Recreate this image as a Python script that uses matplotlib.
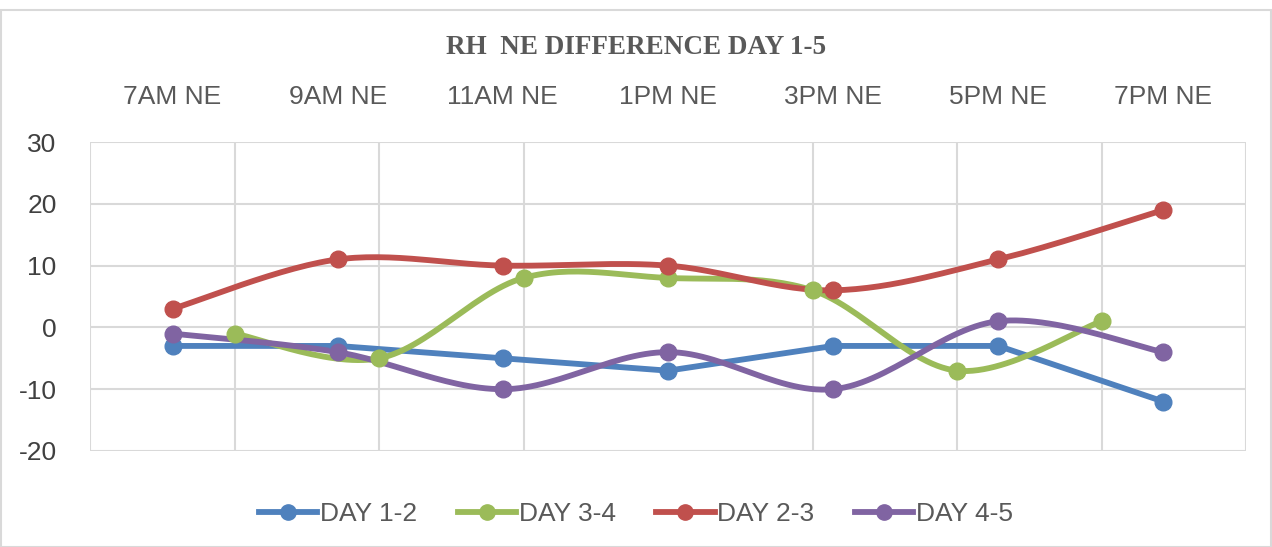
import numpy as np
import matplotlib
matplotlib.use("Agg")
import matplotlib.pyplot as plt
from matplotlib.patches import Rectangle

# categories and values
times = ["7AM NE", "9AM NE", "11AM NE", "1PM NE", "3PM NE", "5PM NE", "7PM NE"]
day_1_2 = [-3, -3, -5, -7, -3, -3, -12]
day_3_4 = [-1, -5, 8, 8, 6, -7, 1]
day_2_3 = [3, 11, 10, 10, 6, 11, 19]
day_4_5 = [-1, -4, -10, -4, -10, 1, -4]
y_ticks = [30, 20, 10, 0, -10, -20]

grey = "#595959"
plt.rcParams['font.family'] = ['Liberation Sans Narrow', 'Liberation Sans', 'DejaVu Sans']
plt.rcParams['axes.unicode_minus'] = False


def smooth(x, y, n=30):
    # Excel-like smoothed line (bezier with catmull-rom control points)
    x = np.asarray(x, float)
    y = np.asarray(y, float)
    pts = np.column_stack([x, y])
    out = [pts[0]]
    t = np.linspace(0, 1, n)[1:, None]
    for i in range(len(pts) - 1):
        p0 = pts[i - 1] if i > 0 else pts[i]
        p1 = pts[i]
        p2 = pts[i + 1]
        p3 = pts[i + 2] if i + 2 < len(pts) else pts[i + 1]
        c1 = p1 + (p2 - p0) / 6
        c2 = p2 - (p3 - p1) / 6
        seg = ((1 - t) ** 3) * p1 + 3 * ((1 - t) ** 2) * t * c1 + 3 * (1 - t) * t ** 2 * c2 + t ** 3 * p2
        out.extend(seg)
    out = np.array(out)
    return out[:, 0], out[:, 1]


fig = plt.figure(figsize=(12.72, 5.47), dpi=100)
ax = fig.add_axes([90 / 1272, 1 - 451 / 547, 1156 / 1272, 309 / 547])

x_main = np.arange(len(times)) + 0.5
x_green = np.arange(1, 8) * 7 / 8

series = [
    ("DAY 1-2", x_main, day_1_2, "#4F81BD", False),
    ("DAY 3-4", x_green, day_3_4, "#9BBB59", True),
    ("DAY 2-3", x_main, day_2_3, "#C0504D", True),
    ("DAY 4-5", x_main, day_4_5, "#8064A2", True),
]

handles = []
for name, xs, ys, col, sm in series:
    if sm:
        sx, sy = smooth(xs, ys)
    else:
        sx, sy = xs, ys
    ax.plot(sx, sy, color=col, lw=4.2, solid_capstyle='round', zorder=3)
    ax.plot(xs, ys, 'o', color=col, ms=12, zorder=4)
    h, = ax.plot([], [], color=col, lw=4.2, marker='o', ms=11, label=name)
    handles.append(h)

ax.set_xlim(0, 7)
ax.set_ylim(-20, 30)
ax.set_yticks(y_ticks)
ax.set_xticks(x_main)
ax.set_xticklabels(times)
ax.set_xticks(np.arange(9) * 7 / 8, minor=True)
ax.xaxis.tick_top()
ax.tick_params(axis='x', which='both', length=0, pad=24, labelsize=19, labelcolor=grey)
ax.tick_params(axis='y', length=0, pad=24, labelsize=19, labelcolor="#404040")
ax.grid(axis='y', color="#D9D9D9", lw=1.5, zorder=0)
ax.grid(axis='x', which='minor', color="#D9D9D9", lw=1.5, zorder=0)
ax.grid(axis='x', which='major', visible=False)
for s in ax.spines.values():
    s.set_visible(False)

fig.text(0.5, 1 - 47 / 547, "RH  NE DIFFERENCE DAY 1-5", ha='center', va='center',
         fontsize=19.5, fontweight='bold', color=grey, family=['Liberation Serif'])

fig.legend(handles=handles, loc='center', bbox_to_anchor=(0.5, 1 - 514 / 547), ncol=4,
           frameon=False, fontsize=19, labelcolor=grey, handlelength=2.2,
           handletextpad=0.1, columnspacing=1.55)

fig.patches.append(Rectangle((0.001, 0.0), 0.998, 1 - 10 / 547, transform=fig.transFigure,
                             fill=False, edgecolor="#D9D9D9", lw=1.5))

fig.savefig("out.png", dpi=100)
